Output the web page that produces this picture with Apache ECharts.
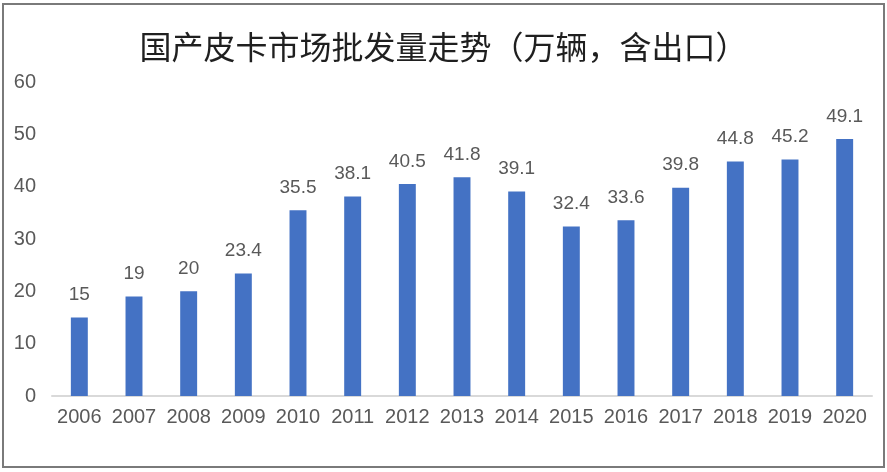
<!DOCTYPE html>
<html>
<head>
<meta charset="utf-8">
<script src="https://cdn.jsdelivr.net/npm/echarts@6/dist/echarts.min.js"></script>
<style>
html,body{margin:0;padding:0;background:#fff;}
#frame{position:absolute;left:2px;top:3px;width:879px;height:461px;border:2px solid #7a7a7a;}
#chart{position:absolute;left:0;top:0;width:887px;height:472px;}
</style>
</head>
<body>
<div id="frame"></div>
<div id="chart"></div>
<script>
const titleText = '国产皮卡市场批发量走势（万辆，含出口）';
const years = ['2006','2007','2008','2009','2010','2011','2012','2013','2014','2015','2016','2017','2018','2019','2020'];
const volumes = [15, 19, 20, 23.4, 35.5, 38.1, 40.5, 41.8, 39.1, 32.4, 33.6, 39.8, 44.8, 45.2, 49.1];
const yTicks = [0, 10, 20, 30, 40, 50, 60];

const chart = echarts.init(document.getElementById('chart'), null, {renderer: 'canvas'});
chart.setOption({
  animation: false,
  backgroundColor: 'transparent',
  title: {
    text: titleText,
    left: 'center',
    top: 26,
    textStyle: {fontFamily: '"Noto Sans CJK SC", sans-serif', fontSize: 32, fontWeight: 'normal', color: '#1f1f1f'}
  },
  grid: {left: 52, right: 15, top: 82, bottom: 76},
  xAxis: {
    type: 'category',
    data: years,
    axisLine: {lineStyle: {color: '#d9d9d9', width: 2}},
    axisTick: {show: false},
    axisLabel: {interval: 0, hideOverlap: false, color: '#595959', fontSize: 20, fontFamily: '"Liberation Sans", Arial, sans-serif', margin: 11}
  },
  yAxis: {
    type: 'value',
    min: yTicks[0],
    max: yTicks[yTicks.length - 1],
    interval: 10,
    splitLine: {show: false},
    axisLine: {show: false},
    axisTick: {show: false},
    axisLabel: {color: '#595959', fontSize: 20, fontFamily: '"Liberation Sans", Arial, sans-serif', margin: 16}
  },
  series: [{
    type: 'bar',
    data: volumes,
    barWidth: '31%',
    itemStyle: {color: '#4472c4'},
    label: {show: true, position: 'top', distance: 13, color: '#595959', fontSize: 19, fontFamily: '"Liberation Sans", Arial, sans-serif'}
  }]
});
</script>
</body>
</html>
